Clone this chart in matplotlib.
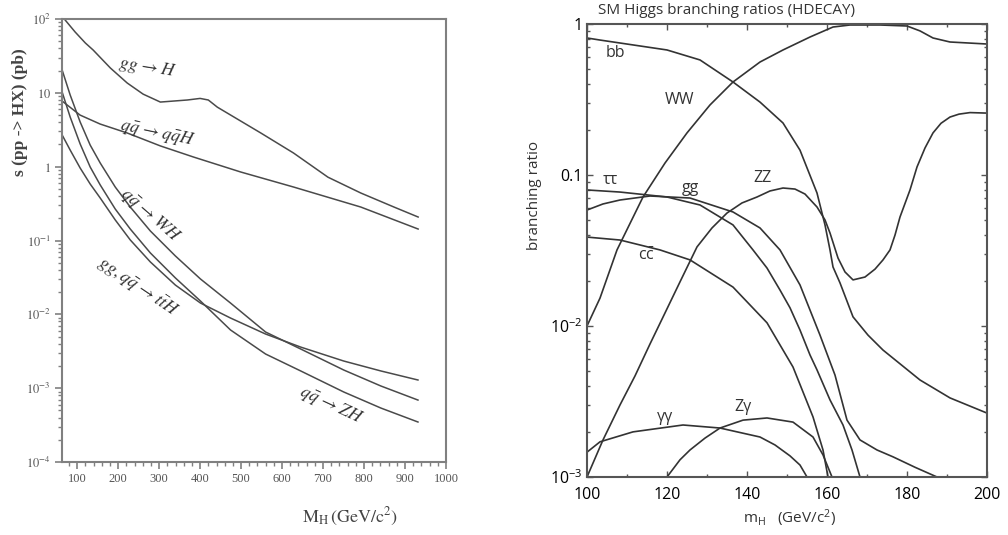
# 希格斯产生截面与衰变分支比 (两幅子图)
import matplotlib
matplotlib.use('Agg')
import matplotlib.pyplot as plt
from matplotlib.ticker import MultipleLocator, LogLocator, NullFormatter

plt.rcParams['font.family'] = ['Open Sans', 'DejaVu Sans']
plt.rcParams['mathtext.fontset'] = 'custom'
plt.rcParams['mathtext.rm'] = 'Open Sans'
plt.rcParams['mathtext.it'] = 'Open Sans:italic'

# ---------------- 左图：LHC 产生截面 (pb) ----------------
mh_ggh = [70.6, 95, 120, 139, 181, 222, 261, 303, 369, 400, 420, 442, 548, 628, 712, 792, 873, 932]
xs_ggh = [97, 66.7, 47.3, 38.0, 21.7, 13.6, 9.6, 7.5, 8.0, 8.4, 8.0, 6.4, 2.86, 1.53, 0.72, 0.44, 0.284, 0.208]

mh_qqh = [63.3, 107, 156, 222, 303, 384, 499, 628, 792, 932]
xs_qqh = [7.74, 5.0, 3.78, 2.86, 1.91, 1.35, 0.847, 0.53, 0.284, 0.143]

mh_vh = [63.3, 82.9, 107.3, 131.8, 156.3, 192.9, 229.6, 278.6, 339.7, 400.9, 474.2, 559.8, 645.5, 750.6, 841.1, 931.6]
xs_wh = [20.4, 9.36, 4.03, 1.96, 1.12, 0.530, 0.284, 0.1345, 0.0617, 0.0301, 0.01422, 0.00576, 0.00339, 0.00176, 0.00107, 0.00069]
xs_zh = [10.26, 4.71, 2.03, 0.989, 0.565, 0.267, 0.143, 0.0678, 0.0311, 0.01514, 0.00614, 0.00290, 0.00171, 0.000887, 0.000538, 0.000348]
xs_tth = [2.69, 1.68, 0.959, 0.582, 0.376, 0.190, 0.1017, 0.0512, 0.0249, 0.01422, 0.00891, 0.00541, 0.00360, 0.00233, 0.00171, 0.00129]

# ---------------- 右图：SM Higgs 分支比 ----------------
m_bb = [100, 103.25, 120, 128.25, 136.5, 143.25, 149, 153.25, 157.5, 159.5, 160.75, 161.5, 163.25, 166.5, 170.25, 174, 183.25, 190.75, 200]
br_bb = [0.808, 0.783, 0.673, 0.578, 0.413, 0.304, 0.221, 0.146, 0.076, 0.0467, 0.0319, 0.0246, 0.0193, 0.0115, 0.0087, 0.00693, 0.00439, 0.00334, 0.00265]

m_ww = [100, 103.25, 107.5, 114, 119.5, 125, 130.75, 136.5, 143.25, 149, 155.75, 161.5, 165.75, 173.25, 180, 183.25, 186.5, 190.75, 200]
br_ww = [0.0100, 0.0153, 0.0319, 0.0715, 0.120, 0.190, 0.291, 0.413, 0.560, 0.673, 0.820, 0.955, 0.985, 0.985, 0.97, 0.90, 0.808, 0.760, 0.737]

m_zz = [100, 104, 108.25, 112, 115.75, 119.5, 123.25, 127.5, 131.25, 135, 138.75, 142.5, 145.75, 149, 152, 154.5, 157.5, 159.5, 160.75, 162.75, 164.5, 166.5, 169.5, 172, 174, 175.75, 177, 178.25, 180.75, 182.5, 184.5, 186.5, 188.5, 190.75, 193, 195.75, 200]
br_zz = [0.001, 0.00176, 0.0030, 0.00467, 0.0076, 0.0122, 0.0196, 0.0334, 0.0446, 0.056, 0.0653, 0.0715, 0.0784, 0.082, 0.0807, 0.0748, 0.0614, 0.0504, 0.0413, 0.0282, 0.0228, 0.0202, 0.0211, 0.0238, 0.0274, 0.0319, 0.040, 0.0527, 0.0796, 0.113, 0.151, 0.190, 0.220, 0.242, 0.253, 0.259, 0.257]

m_tautau = [100, 108.25, 120, 128.25, 136.5, 141.5, 145, 148.25, 150.75, 153.25, 155.75, 157.5, 160.75, 164, 166.25, 168.25]
br_tautau = [0.0796, 0.0771, 0.0715, 0.0633, 0.0467, 0.0319, 0.0242, 0.0173, 0.0132, 0.0094, 0.00643, 0.00512, 0.00324, 0.00221, 0.00151, 0.001]

m_gg = [100, 104, 108.25, 115.75, 125.75, 136.5, 143.25, 148.25, 153.25, 158.25, 162, 165, 168.25, 172.5, 176.5, 182, 187.5]
br_gg = [0.0586, 0.0643, 0.0683, 0.0726, 0.0704, 0.0569, 0.0446, 0.0319, 0.0187, 0.0087, 0.00473, 0.00238, 0.00176, 0.00151, 0.00136, 0.00116, 0.001]

m_cc = [100, 108.25, 118.25, 125.75, 136.5, 145, 151.5, 156.5, 159, 160.25]
br_cc = [0.0388, 0.0371, 0.0319, 0.0274, 0.0181, 0.0105, 0.00535, 0.00250, 0.00151, 0.001]

m_gamgam = [100, 103.25, 111.5, 124, 133.25, 143.25, 147, 150.75, 153.25, 155]
br_gamgam = [0.00146, 0.00171, 0.00199, 0.00221, 0.00211, 0.00184, 0.00163, 0.00138, 0.0012, 0.001]

m_zgam = [120, 123.25, 125.75, 129.5, 133.25, 139, 145, 151.5, 156.5, 159, 161.25]
br_zgam = [0.001, 0.0013, 0.00151, 0.00181, 0.00211, 0.00238, 0.00246, 0.00231, 0.00184, 0.0014, 0.001]

fig = plt.figure(figsize=(10.08, 5.35), dpi=100)

# 左图
ax1 = fig.add_axes([62 / 1008, 1 - 462 / 535, 384 / 1008, 443 / 535])
lc = '#4a4a4a'
for xs, ys in [(mh_ggh, xs_ggh), (mh_qqh, xs_qqh), (mh_vh, xs_wh), (mh_vh, xs_zh), (mh_vh, xs_tth)]:
    ax1.plot(xs, ys, color=lc, lw=1.1)
ax1.set_yscale('log')
ax1.set_xlim(63, 1000)
ax1.set_ylim(1e-4, 1e2)
for s in ax1.spines.values():
    s.set_color('#808080')
    s.set_linewidth(1.5)
ax1.set_xticks(range(100, 1001, 100))
ax1.set_xticklabels([str(v) for v in range(100, 1001, 100)], family='Liberation Serif', fontsize=9)
ax1.xaxis.set_minor_locator(MultipleLocator(20))
ax1.set_yticks([1e-4, 1e-3, 1e-2, 1e-1, 1, 10, 100],
               [r'$10^{-4}$', r'$10^{-3}$', r'$10^{-2}$', r'$10^{-1}$', r'$1$', r'$10$', r'$10^{2}$'],
               math_fontfamily='stix', fontsize=9, color='#555555')
ax1.yaxis.set_minor_locator(LogLocator(base=10, subs=range(2, 10), numticks=20))
ax1.yaxis.set_minor_formatter(NullFormatter())
ax1.tick_params(which='both', direction='out', color='#808080', labelcolor='#555555')
ax1.tick_params(which='major', length=5, width=1.2, pad=3)
ax1.tick_params(which='minor', length=3, width=1)

lab = dict(math_fontfamily='stix', fontsize=13, color='#333333', ha='center', va='center')
ax1.text(271, 21.7, r'$gg\,\rightarrow H$', rotation=-9, **lab)
ax1.text(296, 2.86, r'$q\bar{q}\,\rightarrow q\bar{q}H$', rotation=-12, **lab)
ax1.text(279, 0.221, r'$q\bar{q}\,\rightarrow WH$', rotation=-41, **lab)
ax1.text(247, 0.0234, r'$gg, q\bar{q}\,\rightarrow t\bar{t}H$', rotation=-34, **lab)
ax1.text(719, 0.00059, r'$q\bar{q}\,\rightarrow ZH$', rotation=-25, **lab)

fig.text(20 / 1008, 1 - 112 / 535, 's (pp -> HX) (pb)', rotation=90, ha='center', va='center',
         family='Liberation Serif', fontweight='bold', fontsize=12.5, color='#444444')
fig.text(350 / 1008, 1 - 517 / 535, r'$\mathrm{M_H\,(GeV/c^2)}$', ha='center', va='center',
         math_fontfamily='stix', fontsize=13, color='#444444')

# 右图
ax2 = fig.add_axes([587 / 1008, 1 - 477 / 535, 400 / 1008, 453 / 535])
rc = '#333333'
for xs, ys in [(m_bb, br_bb), (m_ww, br_ww), (m_zz, br_zz), (m_tautau, br_tautau), (m_gg, br_gg),
               (m_cc, br_cc), (m_gamgam, br_gamgam), (m_zgam, br_zgam)]:
    ax2.plot(xs, ys, color=rc, lw=1.2)
ax2.set_yscale('log')
ax2.set_xlim(100, 200)
ax2.set_ylim(1e-3, 1)
for s in ax2.spines.values():
    s.set_color('#555555')
    s.set_linewidth(1.5)
ax2.set_xticks(range(100, 201, 20))
ax2.xaxis.set_minor_locator(MultipleLocator(10))
ax2.set_yticks([1e-3, 1e-2, 0.1, 1], [r'10$^{-3}$', r'10$^{-2}$', '0.1', '1'])
ax2.yaxis.set_minor_locator(LogLocator(base=10, subs=range(2, 10), numticks=20))
ax2.yaxis.set_minor_formatter(NullFormatter())
ax2.tick_params(which='both', direction='in', top=True, right=True, color='#555555', labelsize=11.5)
ax2.tick_params(which='major', length=4, width=1, pad=3)
ax2.tick_params(axis='x', which='major', pad=7)
ax2.tick_params(which='minor', length=2, width=1)

tx = dict(fontsize=11.5, color='#333333', ha='center', va='center')
ax2.text(107, 0.64, 'bb', **tx)
ax2.text(123.25, 0.314, 'WW', **tx)
ax2.text(105.75, 0.093, 'ττ', **tx)
ax2.text(125.75, 0.082, 'gg', **tx)
ax2.text(143.75, 0.095, 'ZZ', **tx)
ax2.text(115, 0.029, r'c$\bar{\mathrm{c}}$', **tx)
ax2.text(119.5, 0.0025, 'γγ', **tx)
ax2.text(139, 0.0029, 'Zγ', **tx)

fig.text(598 / 1008, 1 - 11 / 535, 'SM Higgs branching ratios (HDECAY)', ha='left', va='center',
         fontsize=11, color='#333333')
fig.text(535 / 1008, 1 - 195 / 535, 'branching ratio', rotation=90, ha='center', va='center',
         fontsize=11, color='#333333')
fig.text(790 / 1008, 1 - 518 / 535, r'm$_\mathrm{H}$   (GeV/c$^2$)', ha='center', va='center',
         fontsize=11, color='#333333')

plt.savefig('out.png', dpi=100)
